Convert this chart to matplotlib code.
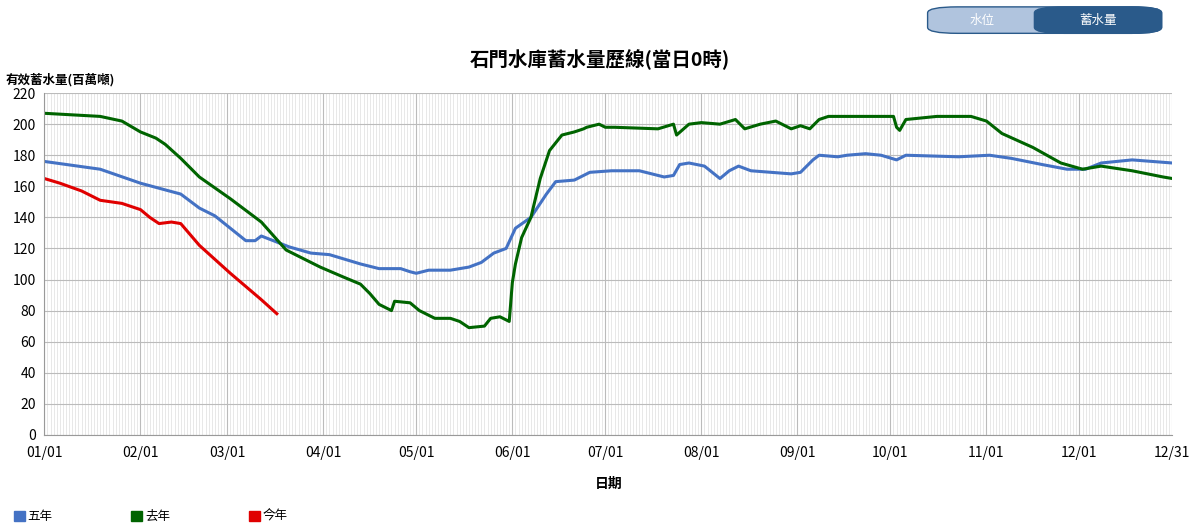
import numpy as np
import matplotlib.pyplot as plt
from matplotlib.patches import FancyBboxPatch, Patch

plt.rcParams['font.family'] = ['Noto Sans CJK TC', 'DejaVu Sans']

# day-of-year (0 = 01/01) and volume
five_day = [0, 18, 31, 44, 50, 55, 60, 65, 68, 70, 79, 86, 92, 102, 108, 115, 118, 120, 124, 131, 137,
            141, 145, 149, 152, 157, 162, 165, 171, 176, 183, 192, 200, 203, 205, 208, 213, 218, 221, 224,
            228, 241, 244, 248, 250, 256, 259, 265, 270, 275, 278, 295, 305, 312, 322, 330, 336, 341, 351, 364]
five_val = [176, 171, 162, 155, 146, 141, 133, 125, 125, 128, 121, 117, 116, 110, 107, 107, 105, 104, 106,
            106, 108, 111, 117, 120, 133, 140, 155, 163, 164, 169, 170, 170, 166, 167, 174, 175, 173, 165,
            170, 173, 170, 168, 169, 177, 180, 179, 180, 181, 180, 177, 180, 179, 180, 178, 174, 171, 171,
            175, 177, 175]
last_day = [0, 18, 25, 31, 36, 39, 44, 50, 60, 70, 78, 83, 89, 96, 102, 105, 108, 112, 113, 118, 121, 126,
            131, 134, 137, 142, 144, 147, 150, 151, 152, 154, 157, 160, 163, 167, 171, 174, 175, 179, 181,
            184, 198, 203, 204, 208, 212, 218, 223, 226, 231, 236, 241, 244, 247, 250, 253, 264, 274, 275,
            276, 278, 283, 288, 299, 304, 309, 319, 328, 335, 341, 351, 361, 364]
last_val = [207, 205, 202, 195, 191, 187, 178, 166, 152, 137, 119, 114, 108, 102, 97, 91, 84, 80, 86, 85,
            80, 75, 75, 73, 69, 70, 75, 76, 73, 98, 110, 127, 140, 165, 183, 193, 195, 197, 198, 200, 198,
            198, 197, 200, 193, 200, 201, 200, 203, 197, 200, 202, 197, 199, 197, 203, 205, 205, 205, 198,
            196, 203, 204, 205, 205, 202, 194, 185, 175, 171, 173, 170, 166, 165]
this_day = [0, 5, 12, 18, 25, 31, 34, 37, 41, 44, 50, 60, 70, 75]
this_val = [165, 162, 157, 151, 149, 145, 140, 136, 137, 136, 122, 104, 87, 78]

months = ['01/01', '02/01', '03/01', '04/01', '05/01', '06/01', '07/01', '08/01',
          '09/01', '10/01', '11/01', '12/01', '12/31']
month_days = [0, 31, 59, 90, 120, 151, 181, 212, 243, 273, 304, 334, 364]

fig = plt.figure(figsize=(12, 5.29), dpi=100)
ax = fig.add_axes([0.037, 0.178, 0.94, 0.646])

ax.set_xticks(range(0, 365), minor=True)
ax.grid(which='minor', axis='x', color='#e4e4e4', lw=0.6)
ax.grid(which='major', color='#bbbbbb', lw=0.8)
ax.plot(five_day, five_val, color='#4472c4', lw=2.2)
ax.plot(last_day, last_val, color='#006400', lw=2.2)
ax.plot(this_day, this_val, color='#e00000', lw=2.2)

ax.set_xlim(0, 364)
ax.set_ylim(0, 220)
ax.set_yticks(range(0, 221, 20))
ax.set_xticks(month_days)
ax.set_xticklabels(months)
ax.tick_params(which='both', length=0, labelsize=10)
ax.tick_params(axis='y', pad=6)
ax.tick_params(axis='x', pad=8)
for s in ['top', 'right']:
    ax.spines[s].set_visible(False)
for s in ['left', 'bottom']:
    ax.spines[s].set_color('#999999')
ax.set_xlabel('日期', fontsize=10, fontweight='bold', labelpad=12)

fig.text(0.5, 0.875, '石門水庫蓄水量歷線(當日0時)', ha='center', fontsize=14, fontweight='bold')
fig.text(0.005, 0.843, '有效蓄水量(百萬噸)', fontsize=9, fontweight='bold')

# toggle button top-right
fig.patches.append(FancyBboxPatch((0.773, 0.937), 0.195, 0.05, boxstyle='round,pad=0,rounding_size=0.025',
                                  transform=fig.transFigure, fc='#b0c4de', ec='#2a5a8a', lw=1, mutation_aspect=0.45))
fig.patches.append(FancyBboxPatch((0.862, 0.937), 0.106, 0.05, boxstyle='round,pad=0,rounding_size=0.025',
                                  transform=fig.transFigure, fc='#2a5a8a', ec='#2a5a8a', lw=1, mutation_aspect=0.45))
fig.text(0.818, 0.962, '水位', ha='center', va='center', color='white', fontsize=9)
fig.text(0.915, 0.962, '蓄水量', ha='center', va='center', color='white', fontsize=9)

handles = [Patch(color='#4472c4', label='五年'), Patch(color='#006400', label='去年'),
           Patch(color='#e00000', label='今年')]
fig.legend(handles=handles, loc='lower left', bbox_to_anchor=(0.002, -0.01), ncol=3, frameon=False,
           handlelength=0.9, handleheight=0.9, handletextpad=0.2, columnspacing=6.3, fontsize=9)

fig.savefig('out.png')
